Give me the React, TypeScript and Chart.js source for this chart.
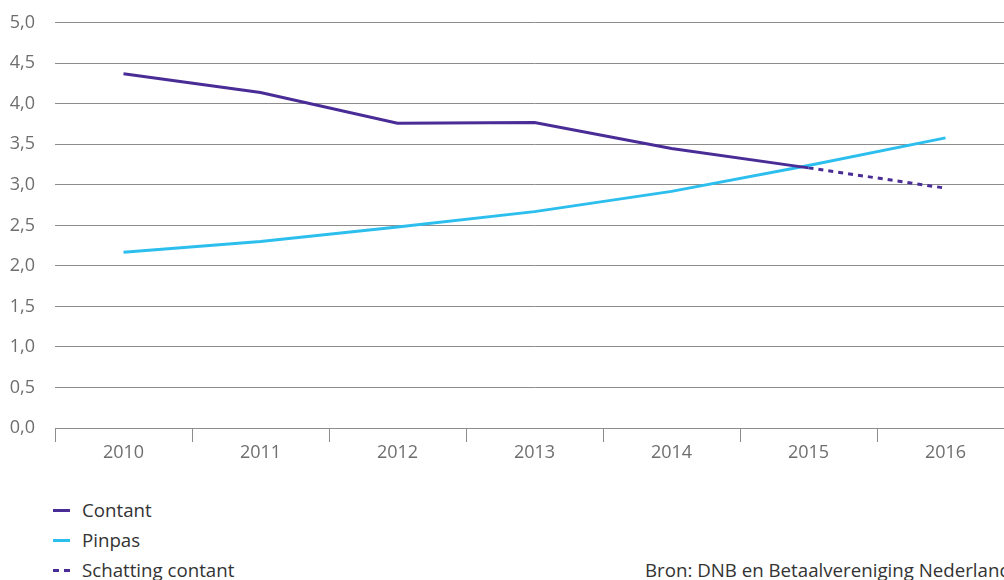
import React, { useEffect, useRef } from "react";
import { Chart, registerables } from "chart.js";

Chart.register(...registerables);

const years = ["2010", "2011", "2012", "2013", "2014", "2015", "2016"];
const contant = [4.37, 4.14, 3.76, 3.77, 3.45, 3.21, null];
const pinpas = [2.17, 2.3, 2.48, 2.67, 2.92, 3.24, 3.58];
const schattingContant = [null, null, null, null, null, 3.21, 2.96];
const yTicks = [0, 0.5, 1, 1.5, 2, 2.5, 3, 3.5, 4, 4.5, 5];

const PURPLE = "#4a2c96";
const CYAN = "#2cbfee";
const FONT = "'Open Sans', 'Noto Sans', sans-serif";

export default function App() {
  const ref = useRef<HTMLCanvasElement | null>(null);

  useEffect(() => {
    if (!ref.current) return;
    const chart = new Chart(ref.current, {
      type: "line",
      data: {
        labels: years,
        datasets: [
          {
            label: "Contant",
            data: contant,
            borderColor: PURPLE,
            borderWidth: 3,
            pointRadius: 0,
            tension: 0,
            spanGaps: false,
          },
          {
            label: "Pinpas",
            data: pinpas,
            borderColor: CYAN,
            borderWidth: 3,
            pointRadius: 0,
            tension: 0,
          },
          {
            label: "Schatting contant",
            data: schattingContant,
            borderColor: PURPLE,
            borderWidth: 3,
            borderDash: [5, 5],
            pointRadius: 0,
            tension: 0,
          },
        ],
      },
      options: {
        responsive: false,
        animation: false,
        layout: { padding: { top: 22, right: 0, left: 0, bottom: 0 } },
        plugins: { legend: { display: false }, tooltip: { enabled: false } },
        scales: {
          x: {
            offset: true,
            afterFit: (s: any) => {
              s.height = 42;
            },
            grid: {
              offset: true,
              drawOnChartArea: false,
              drawTicks: true,
              tickLength: 14,
              color: "#8c8c8c",
            },
            border: { display: true, color: "#8c8c8c", width: 1 },
            ticks: {
              color: "#6e6e6e",
              font: { family: FONT, size: 18 },
              padding: 0,
            },
          },
          y: {
            min: 0,
            max: 5,
            afterFit: (s: any) => {
              s.width = 55;
            },
            afterBuildTicks: (s: any) => {
              s.ticks = yTicks.map((v) => ({ value: v }));
            },
            grid: { color: "#8c8c8c", drawTicks: false, lineWidth: 1 },
            border: { display: false },
            ticks: {
              color: "#6e6e6e",
              font: { family: FONT, size: 18 },
              padding: 20,
              callback: (v: any) => Number(v).toFixed(1).replace(".", ","),
            },
          },
        },
      },
    });
    return () => chart.destroy();
  }, []);

  const legendItems = [
    { label: "Contant", color: PURPLE, dashed: false },
    { label: "Pinpas", color: CYAN, dashed: false },
    { label: "Schatting contant", color: PURPLE, dashed: true },
  ];

  return (
    <div
      style={{
        position: "absolute",
        left: 0,
        top: 0,
        width: 1004,
        height: 580,
        overflow: "hidden",
        fontFamily: FONT,
        background: "#fff",
      }}
    >
      <canvas
        ref={ref}
        width={1014}
        height={478}
        style={{ position: "absolute", left: 0, top: -8 }}
      />
      {legendItems.map((it, i) => (
        <div
          key={it.label}
          style={{
            position: "absolute",
            left: 53,
            top: 497 + i * 30,
            height: 26,
            display: "flex",
            alignItems: "center",
            fontSize: 18.7,
            lineHeight: "26px",
            color: "#333",
          }}
        >
          {it.dashed ? (
            <span style={{ display: "flex", width: 17, justifyContent: "space-between" }}>
              <span style={{ width: 6, height: 3, background: it.color }} />
              <span style={{ width: 6, height: 3, background: it.color }} />
            </span>
          ) : (
            <span style={{ width: 17, height: 3, background: it.color }} />
          )}
          <span style={{ marginLeft: 12 }}>{it.label}</span>
        </div>
      ))}
      <div
        style={{
          position: "absolute",
          left: 645,
          top: 557,
          fontSize: 18.7,
          lineHeight: "26px",
          color: "#333",
          whiteSpace: "nowrap",
        }}
      >
        Bron: DNB en Betaalvereniging Nederland
      </div>
    </div>
  );
}
